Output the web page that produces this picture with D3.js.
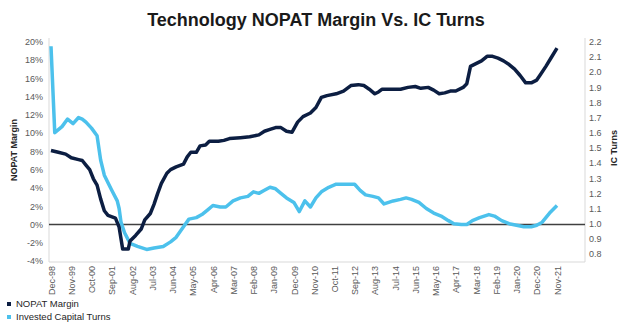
<!DOCTYPE html>
<html>
<head>
<meta charset="utf-8">
<script src="https://cdn.jsdelivr.net/npm/d3@7"></script>
<style>
  body { margin: 0; background: #fff; }
  svg { font-family: "Liberation Sans", Arial, sans-serif; }
</style>
</head>
<body>
<div id="chart-area"></div>
<script>
// NOPAT margin (%), left axis
const nopatDates = ["1998-12","1999-04","1999-08","1999-11","2000-03","2000-05","2000-07","2000-09","2000-11","2001-01","2001-03","2001-05","2001-07","2001-11","2002-01","2002-03","2002-06","2002-07","2002-10","2003-01","2003-03","2003-06","2003-08","2003-10","2003-12","2004-03","2004-05","2004-08","2004-12","2005-02","2005-04","2005-07","2005-09","2005-12","2006-02","2006-07","2006-10","2007-01","2007-07","2007-12","2008-05","2008-08","2008-11","2009-02","2009-05","2009-08","2009-11","2010-02","2010-05","2010-09","2010-12","2011-03","2011-06","2011-11","2012-03","2012-07","2012-11","2013-02","2013-05","2013-08","2013-10","2013-12","2014-05","2014-10","2015-02","2015-06","2015-09","2016-01","2016-04","2016-07","2016-10","2017-01","2017-04","2017-08","2017-10","2017-12","2018-03","2018-06","2018-09","2018-12","2019-03","2019-06","2019-09","2019-12","2020-03","2020-06","2020-09","2020-12","2021-02","2021-05","2021-08","2021-11"]
const nopatValues = [8.1,7.9,7.7,7.3,7.1,7.0,6.5,6.0,5.0,4.3,2.8,1.5,1.0,0.7,-0.3,-2.7,-2.7,-1.8,-1.2,-0.5,0.5,1.2,2.2,3.4,4.5,5.6,6.0,6.3,6.6,7.4,7.9,7.9,8.6,8.7,9.1,9.1,9.2,9.4,9.5,9.6,9.8,10.2,10.4,10.6,10.6,10.2,10.1,11.2,11.8,12.2,12.8,13.9,14.1,14.3,14.6,15.2,15.3,15.2,14.8,14.3,14.5,14.8,14.8,14.8,15.0,15.1,14.9,15.0,14.7,14.3,14.4,14.6,14.6,15.0,15.4,17.3,17.6,17.9,18.4,18.4,18.2,17.9,17.5,17.0,16.3,15.5,15.5,15.8,16.4,17.3,18.3,19.3]

// Invested capital turns, right axis
const turnsDates = ["1998-12","1999-02","1999-06","1999-09","1999-12","2000-03","2000-05","2000-07","2000-10","2001-01","2001-03","2001-05","2001-07","2001-09","2001-12","2002-01","2002-02","2002-04","2002-07","2002-11","2003-04","2003-08","2004-01","2004-05","2004-08","2004-12","2005-03","2005-07","2005-10","2006-01","2006-04","2006-08","2006-11","2007-03","2007-07","2007-11","2008-02","2008-05","2008-08","2008-11","2009-02","2009-05","2009-08","2009-12","2010-03","2010-06","2010-09","2010-12","2011-03","2011-07","2011-11","2012-04","2012-09","2012-12","2013-03","2013-07","2013-10","2014-01","2014-06","2014-10","2015-01","2015-04","2015-08","2015-12","2016-04","2016-08","2016-12","2017-03","2017-07","2017-10","2018-01","2018-05","2018-10","2019-01","2019-05","2019-09","2020-01","2020-05","2020-09","2020-12","2021-03","2021-07","2021-11"]
const turnsValues = [2.17,1.60,1.64,1.69,1.66,1.70,1.69,1.67,1.63,1.58,1.42,1.32,1.27,1.22,1.15,1.10,1.01,0.94,0.87,0.85,0.83,0.84,0.85,0.88,0.91,0.98,1.03,1.04,1.06,1.09,1.12,1.11,1.11,1.15,1.17,1.18,1.21,1.20,1.22,1.24,1.23,1.20,1.17,1.14,1.08,1.15,1.11,1.17,1.21,1.24,1.26,1.26,1.26,1.22,1.19,1.18,1.17,1.13,1.15,1.16,1.17,1.16,1.14,1.10,1.07,1.05,1.02,1.00,0.995,0.995,1.02,1.04,1.06,1.05,1.02,1.00,0.99,0.98,0.98,0.99,1.01,1.07,1.12]

const xTickLabels = ["Dec-98","Nov-99","Oct-00","Sep-01","Aug-02","Jul-03","Jun-04","May-05","Apr-06","Mar-07","Feb-08","Jan-09","Dec-09","Nov-10","Oct-11","Sep-12","Aug-13","Jul-14","Jun-15","May-16","Apr-17","Mar-18","Feb-19","Jan-20","Dec-20","Nov-21"]
const leftTicks = [-4,-2,0,2,4,6,8,10,12,14,16,18,20]
const rightTicks = [0.8,0.9,1.0,1.1,1.2,1.3,1.4,1.5,1.6,1.7,1.8,1.9,2.0,2.1,2.2]

const W = 630, H = 330
const PLOT = { LEFT: 49, RIGHT: 585, TOP: 38, BOTTOM: 261 }
const NAVY = "#0c1e42", SKY = "#4cc1ec"

const parseData = d3.timeParse("%Y-%m")
const parseTick = d3.timeParse("%b-%y")

const nopat = nopatDates.map((d, i) => ({ date: parseData(d), value: nopatValues[i] }))
const turns = turnsDates.map((d, i) => ({ date: parseData(d), value: turnsValues[i] }))

const svg = d3.select("#chart-area").append("svg")
    .attr("width", W)
    .attr("height", H)

const x = d3.scaleTime()
    .domain([parseData("1998-12"), parseData("2021-11")])
    .range([51, 557])

const yL = d3.scaleLinear().domain([-4, 20]).range([PLOT.BOTTOM, 41.7])
const yR = d3.scaleLinear().domain([0.8, 2.2]).range([254, 41.7])

// plot frame (left, bottom, right)
svg.append("path")
    .attr("d", `M${PLOT.LEFT},${PLOT.TOP}V${PLOT.BOTTOM + 1}H${PLOT.RIGHT}V${PLOT.TOP}`)
    .attr("fill", "none")
    .attr("stroke", "#d9d9d9")
    .attr("stroke-width", 1)

// title
svg.append("text")
    .attr("x", 316).attr("y", 26)
    .attr("text-anchor", "middle")
    .attr("font-size", 18).attr("font-weight", "bold")
    .attr("fill", "#1a1a1a")
    .text("Technology NOPAT Margin Vs. IC Turns")

// left axis
const gL = svg.append("g")
    .attr("transform", `translate(${PLOT.LEFT},0)`)
    .call(d3.axisLeft(yL).tickValues(leftTicks).tickFormat(d => d + "%").tickSize(0).tickPadding(6))
gL.select(".domain").remove()
gL.selectAll("text").attr("font-size", 9).attr("fill", "#595959").attr("font-family", null)

// right axis
const gR = svg.append("g")
    .attr("transform", `translate(${PLOT.RIGHT},0)`)
    .call(d3.axisRight(yR).tickValues(rightTicks).tickFormat(d3.format(".1f")).tickSize(0).tickPadding(4))
gR.select(".domain").remove()
gR.selectAll("text").attr("font-size", 9).attr("fill", "#595959").attr("font-family", null)

// x axis, vertical labels
const gX = svg.append("g")
    .attr("transform", `translate(0,${PLOT.BOTTOM + 1})`)
    .call(d3.axisBottom(x).tickValues(xTickLabels.map(parseTick)).tickFormat(d3.timeFormat("%b-%y")).tickSize(0))
gX.select(".domain").remove()
gX.selectAll("text")
    .attr("transform", "rotate(-90)")
    .attr("text-anchor", "end")
    .attr("x", -4).attr("y", 0).attr("dy", "0.35em")
    .attr("font-size", 9).attr("fill", "#595959").attr("font-family", null)

// axis titles
svg.append("text")
    .attr("transform", "translate(17,150) rotate(-90)")
    .attr("text-anchor", "middle")
    .attr("font-size", 9).attr("font-weight", "bold").attr("fill", "#262626")
    .text("NOPAT Margin")
svg.append("text")
    .attr("transform", "translate(617,148) rotate(-90)")
    .attr("text-anchor", "middle")
    .attr("font-size", 9).attr("font-weight", "bold").attr("fill", "#262626")
    .text("IC Turns")

// zero line
svg.append("line")
    .attr("x1", PLOT.LEFT).attr("x2", PLOT.RIGHT)
    .attr("y1", yL(0)).attr("y2", yL(0))
    .attr("stroke", "#404040").attr("stroke-width", 1.5)

// lines
svg.append("path")
    .datum(turns)
    .attr("fill", "none")
    .attr("stroke", SKY).attr("stroke-width", 3.5)
    .attr("stroke-linejoin", "round")
    .attr("d", d3.line().x(d => x(d.date)).y(d => yR(d.value)))

svg.append("path")
    .datum(nopat)
    .attr("fill", "none")
    .attr("stroke", NAVY).attr("stroke-width", 3.5)
    .attr("stroke-linejoin", "round")
    .attr("d", d3.line().x(d => x(d.date)).y(d => yL(d.value)))

// legend
const legend = [["NOPAT Margin", NAVY], ["Invested Capital Turns", SKY]]
const lg = svg.selectAll(".legend").data(legend).enter().append("g")
    .attr("transform", (d, i) => `translate(7,${304 + i * 13})`)
lg.append("rect").attr("x", 0).attr("y", -2).attr("width", 4).attr("height", 4).attr("fill", d => d[1])
lg.append("text").attr("x", 9).attr("y", 0).attr("dy", "0.35em")
    .attr("font-size", 9.5).attr("fill", "#262626")
    .text(d => d[0])
</script>
</body>
</html>
